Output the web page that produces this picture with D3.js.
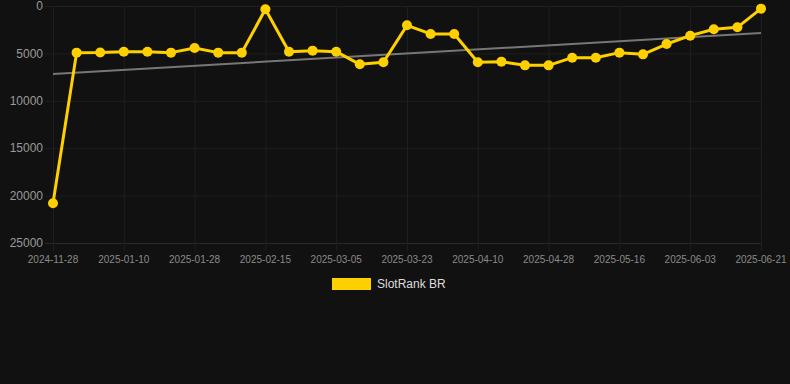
<!DOCTYPE html>
<html>
<head>
<meta charset="utf-8">
<script src="https://cdn.jsdelivr.net/npm/d3@7/dist/d3.min.js"></script>
<style>
  html, body { margin: 0; padding: 0; background: #111111; }
  svg { display: block; }
</style>
</head>
<body>
<div id="chart"></div>
<script>
const dates = [
  "2024-11-28","2024-12-29","2025-01-04","2025-01-10","2025-01-16","2025-01-22",
  "2025-01-28","2025-02-03","2025-02-09","2025-02-15","2025-02-21","2025-02-27",
  "2025-03-05","2025-03-11","2025-03-17","2025-03-23","2025-03-29","2025-04-04",
  "2025-04-10","2025-04-16","2025-04-22","2025-04-28","2025-05-04","2025-05-10",
  "2025-05-16","2025-05-22","2025-05-28","2025-06-03","2025-06-09","2025-06-15",
  "2025-06-21"
];
const rankValues = [
  20800, 4920, 4900, 4820, 4820, 4920,
  4430, 4920, 4920, 350, 4820, 4710,
  4820, 6150, 5940, 2040, 2950, 2950,
  5940, 5870, 6260, 6260, 5450, 5450,
  4920, 5100, 4010, 3130, 2460, 2250,
  280
];
const trendValues = [7170, 2850];
const yTicks = [0, 5000, 10000, 15000, 20000, 25000];
const xTickLabels = ["2024-11-28","2025-01-10","2025-01-28","2025-02-15","2025-03-05",
  "2025-03-23","2025-04-10","2025-04-28","2025-05-16","2025-06-03","2025-06-21"];
const seriesName = "SlotRank BR";

(function () {
const W = 790, H = 384;
const pLeft = 53, pRight = 761, pTop = 6, pBottom = 243;
const yellow = "#ffd000";

const svg = d3.select("#chart").append("svg").attr("width", W).attr("height", H);
svg.append("rect").attr("width", W).attr("height", H).attr("fill", "#111111");

const x = d3.scalePoint().domain(dates).range([pLeft, pRight]);
const y = d3.scaleLinear().domain([0, 25000]).range([pTop, pBottom]);

const grid = "#1f1f1f";
svg.append("g").selectAll("line").data(yTicks).join("line")
  .attr("x1", pLeft - 8).attr("x2", pRight)
  .attr("y1", d => y(d) + 0.5).attr("y2", d => y(d) + 0.5)
  .attr("stroke", d => d === 25000 ? "#2a2a2a" : grid).attr("stroke-width", 1);
svg.append("g").selectAll("line").data(xTickLabels).join("line")
  .attr("x1", d => x(d) + 0.5).attr("x2", d => x(d) + 0.5)
  .attr("y1", pTop).attr("y2", pBottom + 8)
  .attr("stroke", grid).attr("stroke-width", 1);

svg.append("g").selectAll("text").data(yTicks).join("text")
  .attr("x", 43).attr("y", d => y(d)).attr("dy", "0.35em")
  .attr("text-anchor", "end")
  .attr("font-family", "Liberation Sans, Arial, sans-serif").attr("font-size", 12)
  .attr("fill", "#9a9a9a").text(d => d);

svg.append("g").selectAll("text").data(xTickLabels).join("text")
  .attr("x", d => x(d)).attr("y", 259).attr("dy", "0.35em")
  .attr("text-anchor", "middle")
  .attr("font-family", "Liberation Sans, Arial, sans-serif").attr("font-size", 10)
  .attr("fill", "#8a8a8a").text(d => d);

svg.append("line")
  .attr("x1", x(dates[0])).attr("x2", x(dates[dates.length - 1]))
  .attr("y1", y(trendValues[0])).attr("y2", y(trendValues[1]))
  .attr("stroke", "#777777").attr("stroke-width", 2);

const line = d3.line().x((d, i) => x(dates[i])).y(d => y(d));
svg.append("path").datum(rankValues)
  .attr("d", line).attr("fill", "none")
  .attr("stroke", yellow).attr("stroke-width", 3).attr("stroke-linejoin", "round");

svg.append("g").selectAll("circle").data(rankValues).join("circle")
  .attr("cx", (d, i) => x(dates[i])).attr("cy", d => y(d)).attr("r", 5)
  .attr("fill", yellow);

svg.append("rect").attr("x", 332).attr("y", 278).attr("width", 39).attr("height", 12)
  .attr("fill", yellow);
svg.append("text").attr("x", 377).attr("y", 284).attr("dy", "0.35em")
  .attr("font-family", "Liberation Sans, Arial, sans-serif").attr("font-size", 12)
  .attr("fill", "#dddddd").text(seriesName);
})();
</script>
</body>
</html>
